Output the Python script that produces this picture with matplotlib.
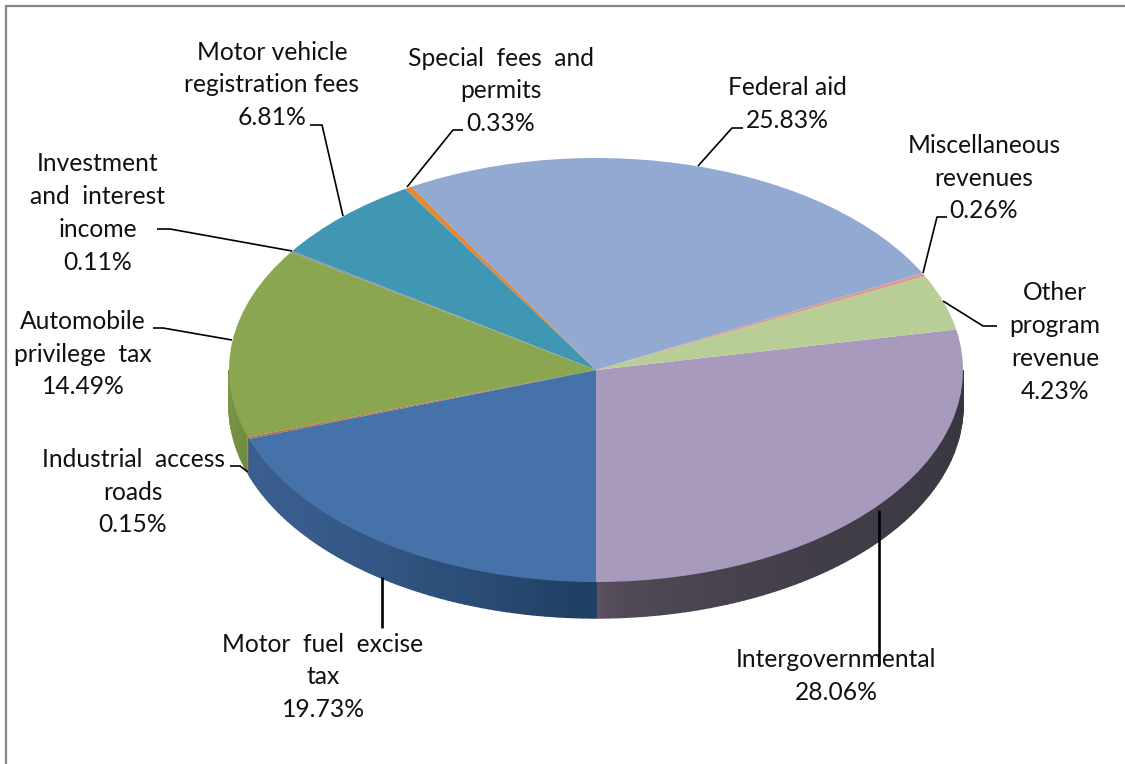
#!/usr/bin/env python3
# Revenue sources, 3D look pie chart
import numpy as np
import matplotlib
matplotlib.use("Agg")
import matplotlib.pyplot as plt
from matplotlib.colors import to_rgb

plt.rcParams['font.family'] = ['Lato', 'DejaVu Sans']

W, H = 1125, 764
CX, CY, RX, RY = 596, 370, 367, 212
DEPTH = 36

# going counter clockwise from the bottom of the pie
categories = ['Intergovernmental', 'Other program revenue', 'Miscellaneous revenues',
              'Federal aid', 'Special fees and permits', 'Motor vehicle registration fees',
              'Investment and interest income', 'Automobile privilege tax',
              'Industrial access roads', 'Motor fuel excise tax']
values = [28.06, 4.23, 0.26, 25.83, 0.33, 6.81, 0.11, 14.49, 0.15, 19.73]

top_colors = ['#A79ABC', '#B9CE96', '#DB9C8C', '#92A9D2', '#DE8A3E',
              '#3F97B3', '#8A8FA0', '#8AA650', '#BE6F4C', '#4572A8']
# wall shading: colour at the start and at the end of each wedge, and how fast it moves
side_start = ['#665869', '#B9CE96', '#DB9C8C', '#92A9D2', '#DE8A3E',
              '#3F97B3', '#8A8FA0', '#7D9A47', '#C08A30', '#3A5F8F']
side_end = ['#37363F', '#B9CE96', '#DB9C8C', '#92A9D2', '#DE8A3E',
            '#3F97B3', '#8A8FA0', '#6F8B3E', '#C08A30', '#1E3E62']
side_gamma = [0.3, 1, 1, 1, 1, 1, 1, 1, 1, 1.8]

# text boxes: (text, centre x, centre y in pixels)
labels = [
    ('Motor vehicle\nregistration fees\n6.81%', 272, 85),
    ('Special  fees  and\npermits\n0.33%', 501, 91),
    ('Federal aid\n25.83%', 787, 104),
    ('Miscellaneous\nrevenues\n0.26%', 984, 178),
    ('Other\nprogram\nrevenue\n4.23%', 1055, 342),
    ('Investment\nand  interest\nincome\n0.11%', 98, 213),
    ('Automobile\nprivilege  tax\n14.49%', 83, 354),
    ('Industrial  access\nroads\n0.15%', 133, 492),
    ('Motor  fuel  excise\ntax\n19.73%', 323, 677),
    ('Intergovernmental\n28.06%', 836, 676),
]

# leader lines in pixels
leaders = [
    ([310, 322, 343], [125, 125, 216], 1.2),
    ([463, 453, 407], [130, 130, 187], 1.2),
    ([743, 732, 698], [128, 128, 166], 1.2),
    ([947, 937, 923], [217, 217, 273], 1.2),
    ([997, 983, 943], [326, 326, 301], 1.2),
    ([157, 170, 292], [229, 229, 251], 1.2),
    ([153, 163, 232], [328, 328, 340], 1.2),
    ([230, 240, 248], [466, 466, 472], 1.2),
    ([382, 382], [577, 628], 1.9),
    ([879, 879], [510, 665], 1.9),
]

fig = plt.figure(figsize=(W / 100, H / 100), dpi=100, facecolor='white')

# pie axes, one data unit is RX wide and RY high so the pie becomes an ellipse
ax = fig.add_axes([0, 0, 1, 1])

# side wall, built from the same wedge angles as the pie
depth = DEPTH / RY
edges = 270 + np.concatenate([[0], np.cumsum(values)]) * 3.6 / (sum(values) / 100)
for i in range(len(values)):
    a0, a1 = edges[i], edges[i + 1]
    for shift in (-360, 0):
        lo = max(a0 + shift, 180)
        hi = min(a1 + shift, 360)
        if hi <= lo:
            continue
        steps = np.linspace(lo, hi, max(int(hi - lo), 1) + 1)
        c0, c1 = np.array(to_rgb(side_start[i])), np.array(to_rgb(side_end[i]))
        for s0, s1 in zip(steps[:-1], steps[1:]):
            f = (((s0 + s1) / 2 - lo) / (hi - lo)) ** side_gamma[i]
            col = c0 + (c1 - c0) * f
            t = np.radians(np.linspace(s0, s1, 4))
            xs = np.cos(t)
            ys = np.sin(t)
            ax.fill(np.r_[xs, xs[::-1]], np.r_[ys, ys[::-1] - depth],
                    color=col, lw=1.0, zorder=0.5)

ax.pie(values, colors=top_colors, startangle=270, counterclock=True, radius=1,
       wedgeprops=dict(linewidth=0))
ax.set_aspect('auto')
ax.set_xlim((0 - CX) / RX, (W - CX) / RX)
ax.set_ylim((CY - H) / RY, CY / RY)
ax.axis('off')

# overlay in pixel units for labels, leaders and the frame
ov = fig.add_axes([0, 0, 1, 1], zorder=5)
ov.set_xlim(0, W)
ov.set_ylim(H, 0)
ov.axis('off')
ov.patch.set_alpha(0)

# the frame is cut off on the right and at the bottom
ov.plot([6, 6, W], [H, 6, 6], color='#868686', lw=1.6, solid_joinstyle='miter')

for txt, x, y in labels:
    ov.text(x, y, txt, ha='center', va='center', fontsize=17.7, color='#111111',
            linespacing=1.51, multialignment='center')

for xs, ys, lw in leaders:
    ov.plot(xs, ys, color='black', lw=lw, solid_capstyle='butt')

fig.savefig('out.png', dpi=100, facecolor='white')
plt.close(fig)
